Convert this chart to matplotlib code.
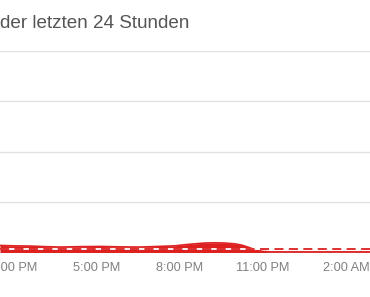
import matplotlib
matplotlib.use("Agg")
import matplotlib.pyplot as plt
import numpy as np

# Data (hours since midnight of first day; values on 0-100 scale)
hours = [13.49, 14.0, 14.57, 15.1, 15.66, 16.4, 17.10, 17.8, 18.55, 19.2, 19.81,
         20.2, 20.54, 20.9, 21.26, 21.6, 21.98, 22.25, 22.45, 22.65, 22.81,
         23.0, 23.25, 24.0, 25.0, 26.0, 26.87]
values = [3.5, 3.3, 3.2, 2.9, 2.7, 2.9, 3.0, 2.8, 2.7, 3.0, 3.3,
          3.9, 4.3, 4.7, 4.8, 4.7, 4.3, 3.6, 2.7, 1.7, 1.0,
          0.5, 0.3, 0.3, 0.3, 0.3, 0.3]
avg_value = 1.5
tick_hours = [14, 17, 20, 23, 26]
tick_labels = ["2:00 PM", "5:00 PM", "8:00 PM", "11:00 PM", "2:00 AM"]
title = "der letzten 24 Stunden"

red = "#dd2020"

fig = plt.figure(figsize=(3.70, 2.97), dpi=100)
ax = fig.add_axes([0, (297 - 252.5) / 297, 1, 201.5 / 297])
ax.set_xlim(13.49, 26.87)
ax.set_ylim(0, 100)

ax.fill_between(hours, 0, values, color=red, linewidth=0, zorder=2)
ax.plot(hours, values, color=red, linewidth=1.2, zorder=3)
ax.axhline(avg_value, color="white", linewidth=1.3, zorder=4)
ax.axhline(avg_value, color=red, linewidth=1.3, linestyle=(0, (5, 3)), zorder=5)

ax.set_yticks([0, 25, 50, 75, 100])
ax.yaxis.grid(True, color="#e2e2e2", linewidth=1.0, zorder=0)
ax.set_axisbelow(True)
ax.tick_params(axis="y", left=False, labelleft=False)
ax.set_xticks(tick_hours)
ax.set_xticklabels(tick_labels, fontfamily="Liberation Sans", fontsize=9.2, color="#808080")
ax.tick_params(axis="x", length=0, pad=7)
for s in ax.spines.values():
    s.set_visible(False)

fig.text(0.0, 1 - 28.3 / 297, title, fontfamily="Liberation Sans", fontsize=13.6,
         color="#555555", va="baseline", ha="left")

fig.savefig("out.png", dpi=100)
